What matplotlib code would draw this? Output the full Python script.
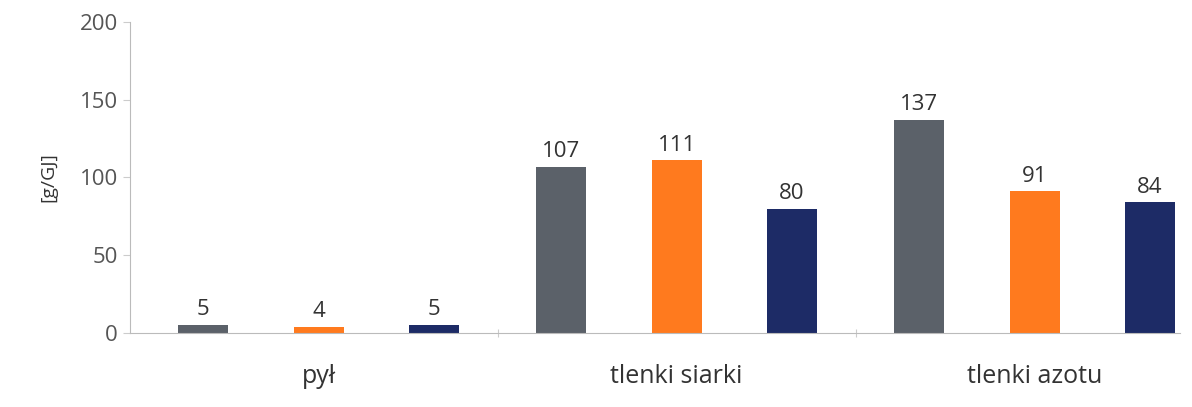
import numpy as np
from matplotlib import pyplot as plt

categories = ['pył', 'tlenki siarki', 'tlenki azotu']
series_gray = [5, 107, 137]
series_orange = [4, 111, 91]
series_navy = [5, 80, 84]
yticks = [0, 50, 100, 150, 200]

plt.rcParams['font.family'] = ['Open Sans', 'DejaVu Sans']

fig = plt.figure(figsize=(11.92, 4.07), dpi=100)
ax = fig.add_axes([0.109, 0.182, 0.881, 0.764])

x = np.arange(len(categories))
off = 0.322
w = 0.14
colors = ['#5b6169', '#ff7a1e', '#1d2b66']
for i, (vals, c) in enumerate(zip([series_gray, series_orange, series_navy], colors)):
    bars = ax.bar(x + (i - 1) * off, vals, width=w, color=c)
    for b, v in zip(bars, vals):
        ax.text(b.get_x() + b.get_width() / 2, v + 3, str(v),
                ha='center', va='bottom', fontsize=16, color='#333333')

ax.set_xlim(-0.527, 2.406)
ax.set_ylim(0, 200)
ax.set_yticks(yticks)
ax.tick_params(axis='y', labelsize=16, labelcolor='#555555', color='#cccccc', length=5)
ax.set_xticks([0.5, 1.5])
ax.set_xticklabels([])
ax.tick_params(axis='x', color='#cccccc', length=6, direction='inout')
for xi, cat in zip(x, categories):
    ax.text(xi, -20, cat, ha='center', va='top', fontsize=18, color='#333333')

ax.set_ylabel('[g/GJ]', fontsize=14, color='#333333', labelpad=16)
for s in ['top', 'right']:
    ax.spines[s].set_visible(False)
for s in ['left', 'bottom']:
    ax.spines[s].set_color('#bbbbbb')

fig.savefig('out.png', dpi=100)
